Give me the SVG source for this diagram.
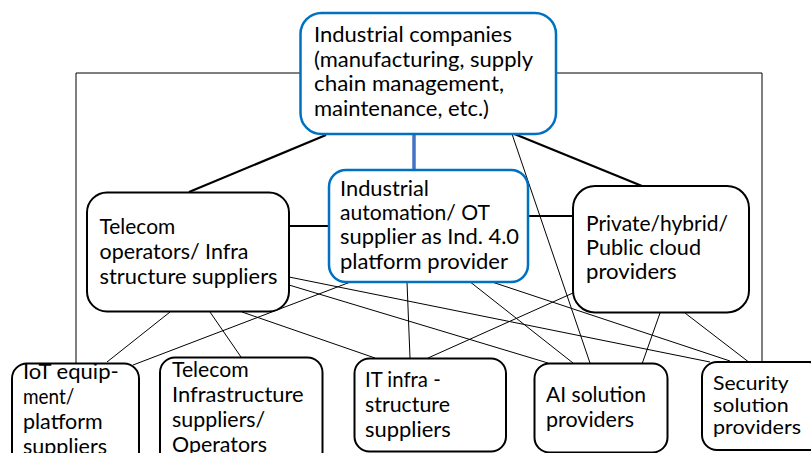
<svg xmlns="http://www.w3.org/2000/svg" width="811" height="453" viewBox="0 0 811 453">
<style>
.box{fill:#fff;stroke:#000;stroke-width:2}
.bbox{fill:#fff;stroke:#0070C0;stroke-width:2.5}
text{font-family:Lato,"Liberation Sans",sans-serif;font-size:20.5px;fill:#000}
.ts{font-size:20px}
.thin{stroke:#000;stroke-width:1;fill:none}
.thick{stroke:#000;stroke-width:2.2;fill:none}
</style>
<rect width="811" height="453" fill="#fff"/>
<g id="connectors">
<path class="thin" d="M76,363 V73 H762 V362"/>
<line class="thin" x1="512" y1="134" x2="590" y2="363"/>
<line class="thin" x1="170" y1="312" x2="107" y2="362"/>
<line class="thin" x1="210" y1="312" x2="241" y2="357"/>
<line class="thin" x1="242" y1="312" x2="375" y2="358"/>
<line class="thin" x1="289" y1="277" x2="710" y2="362"/>
<line class="thin" x1="289" y1="285" x2="548" y2="363"/>
<line class="thin" x1="353" y1="281" x2="133" y2="365"/>
<line class="thin" x1="407" y1="282" x2="410" y2="358"/>
<line class="thin" x1="469" y1="281" x2="573" y2="363"/>
<line class="thin" x1="486" y1="280" x2="730" y2="361"/>
<line class="thin" x1="573" y1="293" x2="428" y2="358"/>
<line class="thin" x1="660" y1="313" x2="642" y2="364"/>
<line class="thin" x1="685" y1="313" x2="750" y2="363"/>
<line x1="414" y1="134" x2="414" y2="170" stroke="#4472C4" stroke-width="3.5"/>
<line class="thick" x1="326" y1="135" x2="189" y2="192"/>
<line class="thick" x1="512" y1="133" x2="642" y2="186"/>
<line class="thick" x1="290" y1="226" x2="329" y2="226"/>
<line class="thick" x1="528" y1="216" x2="573" y2="216"/>
</g>
<g id="industrial-companies">
<rect class="bbox" x="300.5" y="13" width="255.5" height="121" rx="21"/>
<text x="314" y="42" textLength="198" lengthAdjust="spacingAndGlyphs">Industrial companies</text>
<text x="314" y="66.5" textLength="219" lengthAdjust="spacingAndGlyphs">(manufacturing, supply</text>
<text x="314" y="91" textLength="190" lengthAdjust="spacingAndGlyphs">chain management,</text>
<text x="314" y="115.5" textLength="175" lengthAdjust="spacingAndGlyphs">maintenance, etc.)</text>
</g>
<g id="ot-supplier">
<rect class="bbox" x="329" y="170" width="199" height="112" rx="17"/>
<text x="340" y="195.5" textLength="89" lengthAdjust="spacingAndGlyphs">Industrial</text>
<text x="340" y="219.5" textLength="150" lengthAdjust="spacingAndGlyphs">automation/ OT</text>
<text x="340" y="244" textLength="179" lengthAdjust="spacingAndGlyphs">supplier as Ind. 4.0</text>
<text x="340" y="268.5" textLength="168" lengthAdjust="spacingAndGlyphs">platform provider</text>
</g>
<g id="telecom-operators">
<rect class="box" x="87" y="192.5" width="202" height="119" rx="20"/>
<text x="99.5" y="233.5" textLength="75.7" lengthAdjust="spacingAndGlyphs">Telecom</text>
<text x="99.5" y="258.5" textLength="149" lengthAdjust="spacingAndGlyphs">operators/ Infra</text>
<text x="99.5" y="283.5" textLength="178" lengthAdjust="spacingAndGlyphs">structure suppliers</text>
</g>
<g id="cloud-providers">
<rect class="box" x="573" y="186" width="176" height="126.5" rx="22"/>
<text x="586" y="231" textLength="142" lengthAdjust="spacingAndGlyphs">Private/hybrid/</text>
<text x="586" y="255" textLength="115" lengthAdjust="spacingAndGlyphs">Public cloud</text>
<text x="586" y="279" textLength="90.7" lengthAdjust="spacingAndGlyphs">providers</text>
</g>
<g id="iot-suppliers">
<rect class="box" x="12" y="363.5" width="127" height="110" rx="15"/>
<text x="23" y="378.5" textLength="95.7" lengthAdjust="spacingAndGlyphs">IoT equip-</text>
<text x="23" y="403.5" textLength="51.3" lengthAdjust="spacingAndGlyphs">ment/</text>
<text x="23" y="428.5" textLength="79.7" lengthAdjust="spacingAndGlyphs">platform</text>
<text x="23" y="453.5" textLength="84" lengthAdjust="spacingAndGlyphs">suppliers</text>
</g>
<g id="telecom-infra">
<rect class="box" x="160" y="357.5" width="162.5" height="110" rx="15"/>
<text x="172" y="377" textLength="76.7" lengthAdjust="spacingAndGlyphs">Telecom</text>
<text x="172" y="402" textLength="131.7" lengthAdjust="spacingAndGlyphs">Infrastructure</text>
<text x="172" y="427" textLength="93.3" lengthAdjust="spacingAndGlyphs">suppliers/</text>
<text x="172" y="452" textLength="95" lengthAdjust="spacingAndGlyphs">Operators</text>
</g>
<g id="it-infra">
<rect class="box" x="354.5" y="358.5" width="151.5" height="93" rx="15"/>
<text x="365" y="387" textLength="75.7" lengthAdjust="spacingAndGlyphs">IT infra -</text>
<text x="365" y="412" textLength="85" lengthAdjust="spacingAndGlyphs">structure</text>
<text x="365" y="436.5" textLength="85.7" lengthAdjust="spacingAndGlyphs">suppliers</text>
</g>
<g id="ai-providers">
<rect class="box" x="534.5" y="363.5" width="133" height="89" rx="15"/>
<text x="546" y="402" textLength="100" lengthAdjust="spacingAndGlyphs">AI solution</text>
<text x="546" y="427" textLength="88" lengthAdjust="spacingAndGlyphs">providers</text>
</g>
<g id="security-providers">
<rect class="box" x="702" y="362" width="122" height="88" rx="15"/>
<text class="ts" x="713" y="389.5" textLength="75.7" lengthAdjust="spacingAndGlyphs">Security</text>
<text class="ts" x="713" y="411.5" textLength="75.7" lengthAdjust="spacingAndGlyphs">solution</text>
<text class="ts" x="713" y="433.5" textLength="88" lengthAdjust="spacingAndGlyphs">providers</text>
</g>
</svg>
